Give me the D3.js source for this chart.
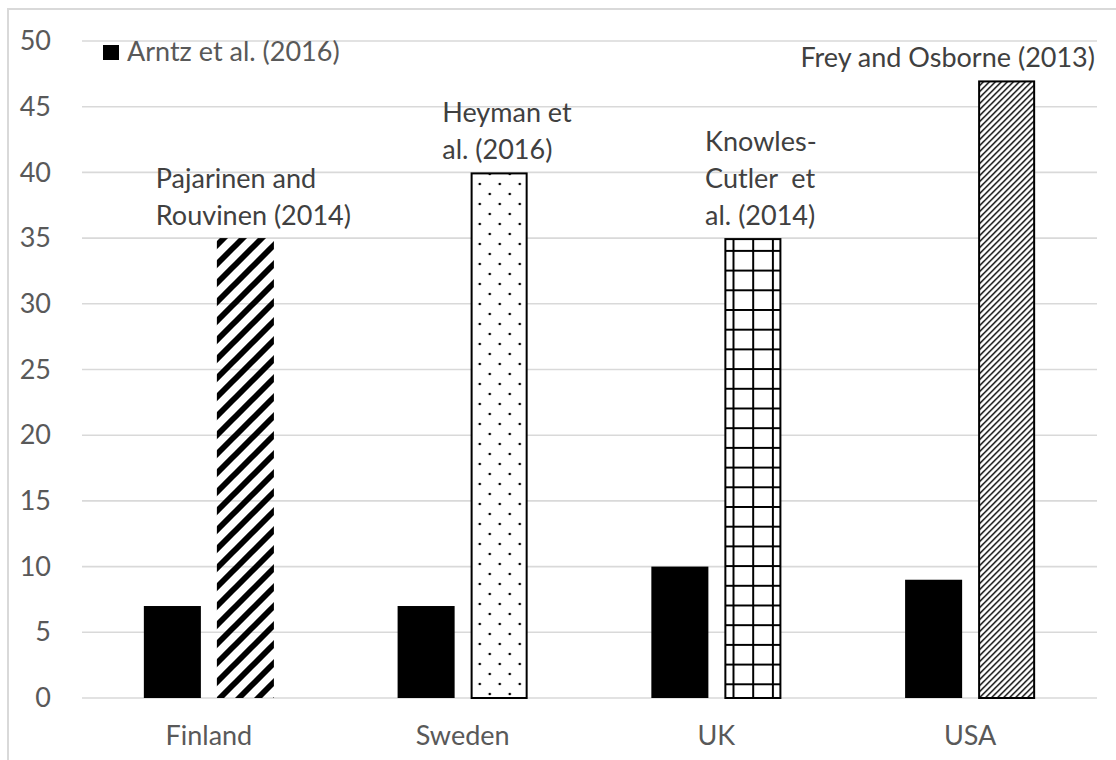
<!DOCTYPE html>
<html>
<head>
<meta charset="utf-8">
<script src="https://cdn.jsdelivr.net/npm/d3@7"></script>
<style>
  html, body { margin: 0; padding: 0; background: #fff; }
  svg { display: block; }
  text { font-family: Lato, "Open Sans", sans-serif; }
</style>
</head>
<body>
<svg id="chart" width="1116" height="760"></svg>
<script>
// ---- data ----
const categories = ["Finland", "Sweden", "UK", "USA"];
const arntzValues = [7, 7, 10, 9];
const nationalValues = [35, 40, 35, 47];
const nationalLabels = [
  ["Pajarinen and", "Rouvinen (2014)"],
  ["Heyman et", "al. (2016)"],
  ["Knowles-", "Cutler  et", "al. (2014)"],
  ["Frey and Osborne (2013)"]
];
const yTicks = [0, 5, 10, 15, 20, 25, 30, 35, 40, 45, 50];
const legendLabel = "Arntz et al. (2016)";

// ---- layout ----
const svg = d3.select("#chart");
const W = 1116, H = 760;
const plot = { left: 82, right: 1097, top: 41, bottom: 698 };
const fontSize = 27;

// frame
svg.append("rect").attr("x", 8).attr("y", 9).attr("width", W + 10).attr("height", H + 10)
  .attr("fill", "none").attr("stroke", "#d9d9d9").attr("stroke-width", 2);

// patterns
const defs = svg.append("defs");
const pWide = defs.append("pattern").attr("id", "pat0").attr("patternUnits", "userSpaceOnUse")
  .attr("width", 19).attr("height", 19);
pWide.append("path").attr("d", "M-5,5 L5,-5 M0,19 L19,0 M14,24 L24,14")
  .attr("stroke", "#000").attr("stroke-width", 5.8);

const pDots = defs.append("pattern").attr("id", "pat1").attr("patternUnits", "userSpaceOnUse")
  .attr("width", 20).attr("height", 20);
pDots.append("rect").attr("width", 20).attr("height", 20).attr("fill", "#fff");
pDots.append("circle").attr("cx", 4).attr("cy", 4).attr("r", 1.3).attr("fill", "#000");
pDots.append("circle").attr("cx", 14).attr("cy", 14).attr("r", 1.3).attr("fill", "#000");

const pGrid = defs.append("pattern").attr("id", "pat2").attr("patternUnits", "userSpaceOnUse")
  .attr("width", 19.7).attr("height", 19.7).attr("x", 734 - 19.7 * 37).attr("y", 698 - 19.7 * 35 + 5);
pGrid.append("rect").attr("width", 19.7).attr("height", 19.7).attr("fill", "#fff");
pGrid.append("path").attr("d", "M1,0 V19.7 M0,1 H19.7").attr("stroke", "#000").attr("stroke-width", 2);

const pThin = defs.append("pattern").attr("id", "pat3").attr("patternUnits", "userSpaceOnUse")
  .attr("width", 6).attr("height", 6);
pThin.append("rect").attr("width", 6).attr("height", 6).attr("fill", "#fff");
pThin.append("path").attr("d", "M-1.5,1.5 L1.5,-1.5 M0,6 L6,0 M4.5,7.5 L7.5,4.5")
  .attr("stroke", "#000").attr("stroke-width", 1.4);

const borderWidths = [0, 2, 2, 2];

// scales
const x = d3.scaleBand().domain(categories).range([plot.left, plot.right]).padding(0);
const bw = x.bandwidth();
const x1 = d3.scaleBand().domain(["arntz", "national"]).range([0, bw])
  .paddingInner(0.219).paddingOuter(0.847);
const y = d3.scaleLinear().domain([0, 50]).range([plot.bottom, plot.top]);

// gridlines
svg.append("g").selectAll("line").data(yTicks).join("line")
  .attr("x1", plot.left).attr("x2", plot.right)
  .attr("y1", d => y(d)).attr("y2", d => y(d))
  .attr("stroke", "#d9d9d9").attr("stroke-width", 1.6);

// y axis labels
const yAxis = d3.axisLeft(y).tickValues(yTicks).tickSize(0).tickPadding(0);
const gy = svg.append("g").attr("transform", `translate(51,0)`).call(yAxis);
gy.select(".domain").remove();
gy.selectAll("text").attr("font-size", fontSize).attr("fill", "#595959")
  .style("font-family", "Lato, 'Open Sans', sans-serif");

// x axis labels
const xAxis = d3.axisBottom(x).tickSize(0).tickPadding(0);
const gx = svg.append("g").attr("transform", `translate(0,${plot.bottom})`).call(xAxis);
gx.select(".domain").remove();
gx.selectAll("text").attr("font-size", fontSize).attr("fill", "#595959").attr("dy", "1.74em")
  .style("font-family", "Lato, 'Open Sans', sans-serif");

// bars
const groups = svg.append("g").selectAll("g").data(categories).join("g")
  .attr("transform", d => `translate(${x(d)},0)`);

groups.append("rect")
  .attr("x", x1("arntz")).attr("width", x1.bandwidth())
  .attr("y", (d, i) => y(arntzValues[i]))
  .attr("height", (d, i) => y(0) - y(arntzValues[i]))
  .attr("fill", "#000");

groups.append("rect")
  .attr("x", (d, i) => x1("national") + borderWidths[i] / 2)
  .attr("width", (d, i) => x1.bandwidth() - borderWidths[i])
  .attr("y", (d, i) => y(nationalValues[i]) + borderWidths[i] / 2)
  .attr("height", (d, i) => y(0) - y(nationalValues[i]) - borderWidths[i] / 2)
  .attr("fill", (d, i) => `url(#pat${i})`)
  .attr("stroke", (d, i) => borderWidths[i] ? "#000" : "none")
  .attr("stroke-width", (d, i) => borderWidths[i]);

// data labels (left-aligned lines in a box centered over the bar)
const lineH = 37;
categories.forEach((c, i) => {
  const lines = nationalLabels[i];
  const cx = x(c) + x1("national") + x1.bandwidth() / 2 + 8;
  const g = svg.append("g");
  const t = g.append("text").attr("font-size", fontSize).attr("fill", "#404040")
    .style("white-space", "pre");
  const lastBase = y(nationalValues[i]) - 13;
  lines.forEach((l, k) => {
    t.append("tspan").attr("x", 0)
      .attr("y", lastBase - (lines.length - 1 - k) * lineH)
      .style("white-space", "pre")
      .text(l);
  });
  const w = t.node().getBBox().width;
  let left = cx - w / 2;
  if (left + w > plot.right - 2) left = plot.right - 2 - w;
  g.attr("transform", `translate(${left},0)`);
});

// legend
const lg = svg.append("g");
lg.append("rect").attr("x", 103).attr("y", 45).attr("width", 16).attr("height", 15).attr("fill", "#000");
lg.append("text").attr("x", 127).attr("y", 52).attr("dy", "0.35em")
  .attr("font-size", fontSize).attr("fill", "#595959").text(legendLabel);
</script>
</body>
</html>
